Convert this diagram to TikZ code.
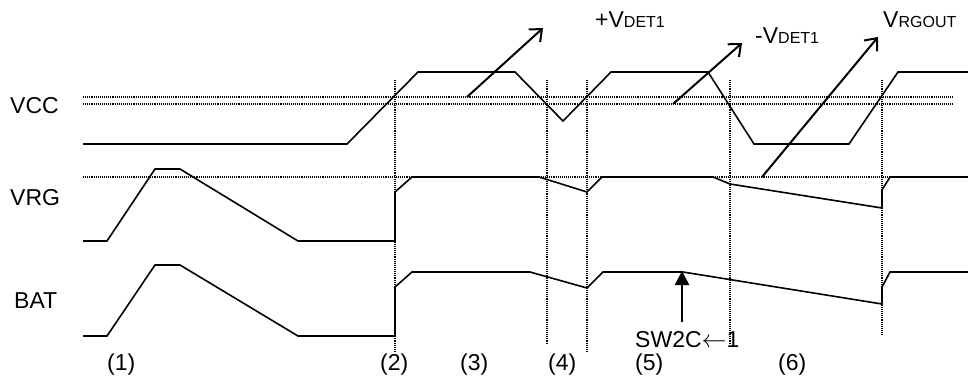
\documentclass[tikz,border=0pt]{standalone}
\usepackage{fontspec}
\setmainfont{Liberation Sans}
\usetikzlibrary{arrows.meta}
\newcommand{\smallsub}[1]{{\fontsize{16}{18}\selectfont #1}}
\begin{document}
\begin{tikzpicture}[x=1pt,y=-1pt,
  sig/.style={line width=1.6pt, line join=miter},
  guide/.style={line width=1.1pt, densely dotted, black},
  lbl/.style={inner sep=0pt, anchor=base west, font=\fontsize{23}{27}\selectfont},
  ptr/.style={line width=2pt, -{Straight Barb[length=10pt,width=17pt,line width=2pt]}},
  swptr/.style={line width=2.6pt, -{Triangle[length=14pt,width=14pt]}}]
\useasboundingbox (0,0) rectangle (968,376);
% horizontal guides
\draw[guide] (83,97) -- (953,97);
\draw[guide] (83,104) -- (953,104);
\draw[guide] (83,177) -- (953,177);
% vertical guides
\draw[guide] (395,80) -- (395,352);
\draw[guide] (547,80) -- (547,343);
\draw[guide] (587,80) -- (587,352);
\draw[guide] (730,80) -- (730,343);
\draw[guide] (882,80) -- (882,335);
% VCC
\draw[sig] (83,144) -- (347,144) -- (418,72) -- (515,72) -- (563,121) -- (611,72) -- (708,72) -- (754,144) -- (849,144) -- (898,72) -- (968,72);
% VRG
\draw[sig] (83,241) -- (107,241) -- (155,169) -- (180,169) -- (298,241) -- (395,241) -- (395,192) -- (412,177) -- (539,177) -- (587,192) -- (602,177) -- (713,177) -- (730,184) -- (882,208) -- (882,190) -- (890,177) -- (968,177);
% BAT
\draw[sig] (83,336) -- (107,336) -- (155,265) -- (180,265) -- (298,336) -- (395,336) -- (395,287) -- (412,272) -- (530,272) -- (587,288) -- (603,272) -- (683,272) -- (882,304) -- (882,287) -- (890,272) -- (968,272);
% arrow coordinates
\coordinate (a1s) at (467,97);  \coordinate (a1e) at (543,28);
\coordinate (a2s) at (673,104); \coordinate (a2e) at (742,43);
\coordinate (a3s) at (762,177); \coordinate (a3e) at (878,37);
\coordinate (sws) at (682,322); \coordinate (swe) at (682,271);
\draw[ptr] (a1s) -- (a1e);
\draw[ptr] (a2s) -- (a2e);
\draw[ptr] (a3s) -- (a3e);
\draw[swptr] (sws) -- (swe);
% labels
\node[lbl] (lvcc) at (10,113) {VCC};
\node[lbl] (lvrg) at (10,205) {VRG};
\node[lbl] (lbat) at (14,308) {BAT};
\node[lbl] (lp) at (595,27) {+V\smallsub{DET1}};
\node[lbl] (lm) at (755,43) {-V\smallsub{DET1}};
\node[lbl] (lo) at (883,27) {V\smallsub{RGOUT}};
\node[lbl] (lsw) at (635,347) {SW2C$\leftarrow$1};
\node[lbl] (p1) at (107,370) {(1)};
\node[lbl] (p2) at (380,370) {(2)};
\node[lbl] (p3) at (460,370) {(3)};
\node[lbl] (p4) at (548,370) {(4)};
\node[lbl] (p5) at (635,370) {(5)};
\node[lbl] (p6) at (778,370) {(6)};
\end{tikzpicture}
\end{document}
